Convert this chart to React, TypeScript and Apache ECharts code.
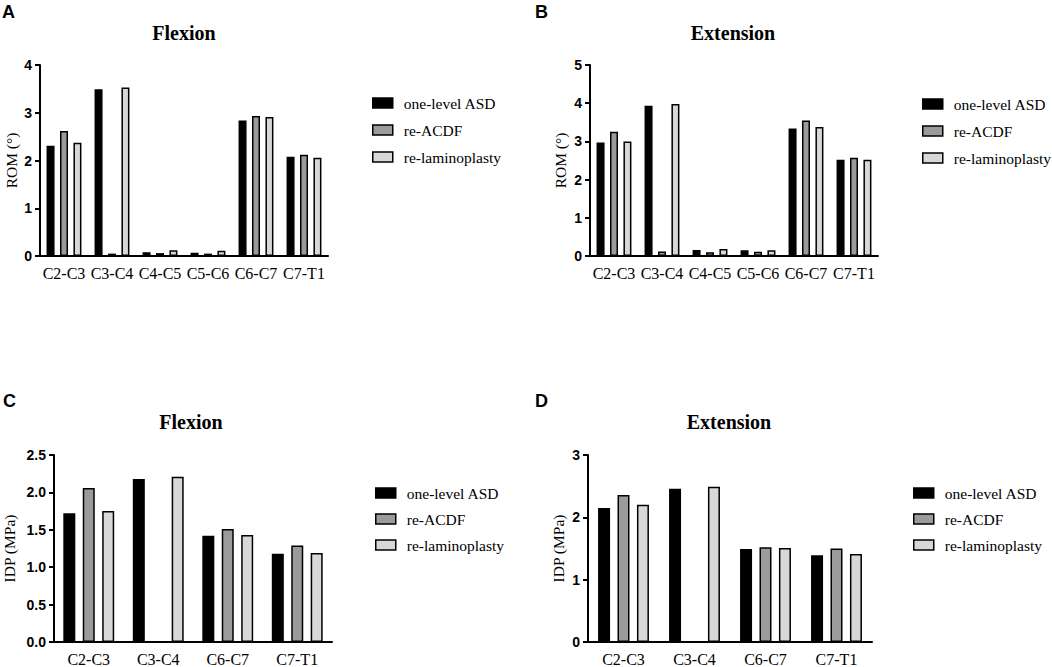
import React, { useEffect, useRef } from "react";
import * as echarts from "echarts";

const categoriesROM = ["C2-C3", "C3-C4", "C4-C5", "C5-C6", "C6-C7", "C7-T1"];
const categoriesIDP = ["C2-C3", "C3-C4", "C6-C7", "C7-T1"];
const seriesNames = ["one-level ASD", "re-ACDF", "re-laminoplasty"];

// A: ROM flexion
const romFlexASD = [2.31, 3.49, 0.08, 0.07, 2.84, 2.08];
const romFlexACDF = [2.62, 0.05, 0.06, 0.05, 2.93, 2.12];
const romFlexLamino = [2.37, 3.53, 0.12, 0.11, 2.91, 2.06];
// B: ROM extension
const romExtASD = [2.97, 3.93, 0.16, 0.15, 3.34, 2.52];
const romExtACDF = [3.25, 0.12, 0.1, 0.11, 3.55, 2.57];
const romExtLamino = [3.0, 3.98, 0.18, 0.15, 3.38, 2.52];
// C: IDP flexion
const idpFlexASD = [1.72, 2.18, 1.42, 1.18];
const idpFlexACDF = [2.06, null, 1.51, 1.29];
const idpFlexLamino = [1.75, 2.21, 1.43, 1.19];
// D: IDP extension
const idpExtASD = [2.15, 2.46, 1.49, 1.39];
const idpExtACDF = [2.36, null, 1.52, 1.5];
const idpExtLamino = [2.2, 2.49, 1.51, 1.41];

const fills = ["#000000", "#9b9b9b", "#d8d8d8"];
const SERIF = "Liberation Serif";
const SANS = "Liberation Sans";

export default function App() {
  const ref = useRef<HTMLDivElement>(null);
  useEffect(() => {
    document.body.style.margin = "0";
    if (!ref.current) return;
    const chart = echarts.init(ref.current, undefined, { renderer: "svg" });

    const grids = [
      { left: 40, top: 65, width: 288, height: 191 },
      { left: 590, top: 65, width: 288, height: 191 },
      { left: 52, top: 455, width: 280, height: 187 },
      { left: 588, top: 455, width: 284, height: 187 },
    ];
    const yCfg = [
      { max: 4, interval: 1, name: "ROM (°)", gap: 21, fmt: (v: number) => String(v) },
      { max: 5, interval: 1, name: "ROM (°)", gap: 22, fmt: (v: number) => String(v) },
      { max: 2.5, interval: 0.5, name: "IDP (MPa)", gap: 37, fmt: (v: number) => v.toFixed(1) },
      { max: 3, interval: 1, name: "IDP (MPa)", gap: 22, fmt: (v: number) => String(v) },
    ];
    const cats = [categoriesROM, categoriesROM, categoriesIDP, categoriesIDP];
    const data = [
      [romFlexASD, romFlexACDF, romFlexLamino],
      [romExtASD, romExtACDF, romExtLamino],
      [idpFlexASD, idpFlexACDF, idpFlexLamino],
      [idpExtASD, idpExtACDF, idpExtLamino],
    ];
    const barW = [8, 8, 12, 12];
    const barGap = ["68%", "68%", "62%", "62%"];

    const xAxis = cats.map((c, i) => ({
      type: "category",
      gridIndex: i,
      data: c,
      axisLine: { lineStyle: { color: "#000", width: 2 } },
      axisTick: { alignWithLabel: true, length: 6, lineStyle: { color: "#000", width: 2 } },
      axisLabel: {
        color: "#000",
        fontFamily: SERIF,
        fontSize: 16,
        margin: 9,
        interval: 0,
        hideOverlap: false,
      },
    }));
    const yAxis = yCfg.map((y, i) => ({
      type: "value",
      gridIndex: i,
      min: 0,
      max: y.max,
      interval: y.interval,
      name: y.name,
      nameLocation: "middle",
      nameRotate: 90,
      nameGap: y.gap,
      nameTextStyle: { color: "#000", fontFamily: SERIF, fontSize: 15.5 },
      axisLine: { show: true, lineStyle: { color: "#000", width: 2 } },
      axisTick: { show: true, length: 5, lineStyle: { color: "#000", width: 2 } },
      axisLabel: {
        color: "#000",
        fontFamily: SANS,
        fontWeight: "bold",
        fontSize: 14,
        margin: 8,
        formatter: y.fmt,
      },
      splitLine: { show: false },
    }));

    const series: any[] = [];
    data.forEach((group, gi) => {
      group.forEach((vals, si) => {
        series.push({
          type: "bar",
          name: seriesNames[si],
          xAxisIndex: gi,
          yAxisIndex: gi,
          data: vals,
          barWidth: barW[gi],
          barGap: barGap[gi],
          itemStyle: { color: fills[si], borderColor: "#000", borderWidth: 1.5 },
        });
      });
    });

    const legendPos = [
      { left: 372, top: 95, gap: 11 },
      { left: 922, top: 96, gap: 11 },
      { left: 375, top: 485, gap: 10 },
      { left: 913, top: 485, gap: 10 },
    ];
    const legend = legendPos.map((p) => ({
      orient: "vertical",
      left: p.left,
      top: p.top,
      padding: 0,
      data: seriesNames,
      icon: "rect",
      itemWidth: 20,
      itemHeight: 10,
      itemGap: p.gap,
      selectedMode: false,
      itemStyle: { borderColor: "#000", borderWidth: 1.5 },
      textStyle: { color: "#000", fontFamily: SERIF, fontSize: 15.5, padding: [0, 0, 0, 6] },
    }));

    const titleText = (text: string, x: number, y: number) => ({
      type: "text",
      x,
      y,
      style: {
        text,
        font: `bold 20px ${SERIF}`,
        fill: "#000",
        align: "center",
        verticalAlign: "middle",
        textAlign: "center",
        textVerticalAlign: "middle",
      },
    });
    const letterText = (text: string, x: number, y: number) => ({
      type: "text",
      x,
      y,
      style: {
        text,
        font: `bold 18px ${SANS}`,
        fill: "#000",
        align: "left",
        verticalAlign: "middle",
        textAlign: "left",
        textVerticalAlign: "middle",
      },
    });

    chart.setOption({
      animation: false,
      backgroundColor: "#fff",
      grid: grids,
      xAxis,
      yAxis,
      series,
      legend,
      graphic: [
        letterText("A", 2, 12),
        letterText("B", 535, 12),
        letterText("C", 3, 401),
        letterText("D", 535, 401),
        titleText("Flexion", 184, 33),
        titleText("Extension", 733, 33),
        titleText("Flexion", 191, 422),
        titleText("Extension", 729, 422),
      ],
    });
    return () => chart.dispose();
  }, []);
  return <div ref={ref} style={{ width: 1052, height: 667 }} />;
}
